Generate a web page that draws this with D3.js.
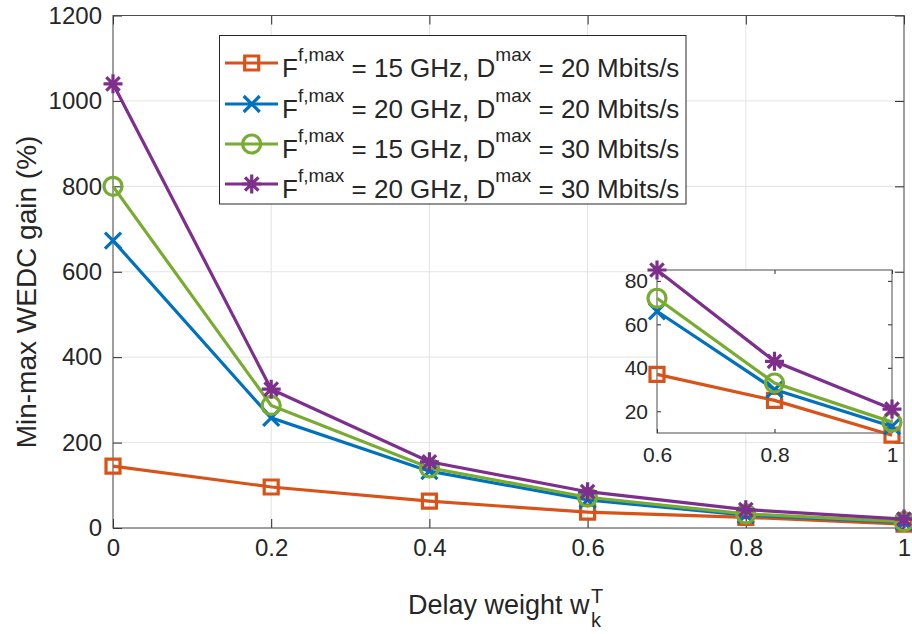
<!DOCTYPE html>
<html>
<head>
<meta charset="utf-8">
<script src="https://cdn.jsdelivr.net/npm/d3@7"></script>
<style>
  body { margin: 0; background: #fff; }
  svg text { font-family: "Liberation Sans", Arial, Helvetica, sans-serif; fill: #262626; }
</style>
</head>
<body>
<div id="chart"></div>
<script>
// data
var weights = [0, 0.2, 0.4, 0.6, 0.8, 1];
var gainF15D20 = [145, 96, 63, 37, 25, 9];
var gainF20D20 = [673, 258, 133, 66, 30, 13];
var gainF15D30 = [800, 287, 141, 72, 33, 15];
var gainF20D30 = [1040, 325, 155, 85, 43, 21];

var xTicks = [0, 0.2, 0.4, 0.6, 0.8, 1];
var yTicks = [0, 200, 400, 600, 800, 1000, 1200];
var insetXTicks = [0.6, 0.8, 1];
var insetYTicks = [20, 40, 60, 80];

var seriesNames = [
    ["15 GHz", "20 Mbits/s"],
    ["20 GHz", "20 Mbits/s"],
    ["15 GHz", "30 Mbits/s"],
    ["20 GHz", "30 Mbits/s"]
];
var seriesValues = [gainF15D20, gainF20D20, gainF15D30, gainF20D30];
var colors = ["#D95319", "#0072BD", "#77AC30", "#7E2F8E"];
var markers = ["square", "x", "circle", "star"];

var W = 912, H = 634;
var axisColor = "#262626";

var svg = d3.select("#chart").append("svg")
    .attr("width", W)
    .attr("height", H);

// main axes
var x = d3.scaleLinear().domain([0, 1]).range([113, 904]);
var y = d3.scaleLinear().domain([0, 1200]).range([528, 15.5]);

// grid
var grid = svg.append("g");
grid.selectAll(".vg").data(xTicks).join("line")
    .attr("x1", d => x(d)).attr("x2", d => x(d))
    .attr("y1", y(0)).attr("y2", y(1200))
    .attr("stroke", "#e3e3e3").attr("stroke-width", 1);
grid.selectAll(".hg").data(yTicks).join("line")
    .attr("x1", x(0)).attr("x2", x(1))
    .attr("y1", d => y(d)).attr("y2", d => y(d))
    .attr("stroke", "#e3e3e3").attr("stroke-width", 1);

function drawFrame(g, xs, ys, xt, yt, fontSize, tickLen, padX, padY, fmt) {
    var x0 = xs.range()[0], x1 = xs.range()[1];
    var y0 = ys.range()[0], y1 = ys.range()[1];
    // bottom + left axes with labels, inner ticks
    g.append("g")
        .attr("transform", "translate(0," + y0 + ")")
        .call(d3.axisBottom(xs).tickValues(xt).tickSize(-tickLen).tickPadding(padX).tickFormat(fmt))
        .call(a => a.selectAll("text").style("font-size", fontSize + "px").attr("fill", axisColor));
    g.append("g")
        .attr("transform", "translate(" + x0 + ",0)")
        .call(d3.axisLeft(ys).tickValues(yt).tickSize(-tickLen).tickPadding(padY).tickFormat(fmt))
        .call(a => a.selectAll("text").style("font-size", fontSize + "px").attr("fill", axisColor));
    // top + right mirrored ticks
    g.append("g")
        .attr("transform", "translate(0," + y1 + ")")
        .call(d3.axisTop(xs).tickValues(xt).tickSize(-tickLen).tickFormat(""));
    g.append("g")
        .attr("transform", "translate(" + x1 + ",0)")
        .call(d3.axisRight(ys).tickValues(yt).tickSize(-tickLen).tickFormat(""));
    g.selectAll(".tick line").attr("stroke", axisColor).attr("stroke-width", 1);
    g.selectAll("path.domain").remove();
    g.append("rect")
        .attr("x", x0).attr("y", y1)
        .attr("width", x1 - x0).attr("height", y0 - y1)
        .attr("fill", "none").attr("stroke", "#4d4d4d").attr("stroke-width", 1);
}

drawFrame(svg.append("g"), x, y, xTicks, yTicks, 24, 9, 11, 11, d3.format("~g"));

function markerPath(type, size) {
    var s = size / 2;
    if (type === "square") return "M" + (-s) + "," + (-s) + "h" + size + "v" + size + "h" + (-size) + "Z";
    if (type === "x") return "M" + (-s) + "," + (-s) + "L" + s + "," + s + "M" + (-s) + "," + s + "L" + s + "," + (-s);
    if (type === "circle") return d3.arc()({innerRadius: 0, outerRadius: s, startAngle: 0, endAngle: 2 * Math.PI});
    if (type === "star") {
        var p = "";
        [0, 45, 90, 135].forEach(function (a) {
            var t = a * Math.PI / 180;
            p += "M" + (-s * Math.cos(t)) + "," + (-s * Math.sin(t)) + "L" + (s * Math.cos(t)) + "," + (s * Math.sin(t));
        });
        return p;
    }
}
var markerSize = {square: 14, x: 16, circle: 18, star: 19};

function drawSeries(g, xs, ys, keep) {
    seriesValues.forEach(function (vals, i) {
        var pts = weights.map((w, j) => ({w: w, v: vals[j]})).filter(d => keep(d.w));
        var line = d3.line().x(d => xs(d.w)).y(d => ys(d.v));
        g.append("path")
            .datum(pts)
            .attr("d", line)
            .attr("fill", "none")
            .attr("stroke", colors[i])
            .attr("stroke-width", 3.2);
        g.selectAll(".m" + i).data(pts).join("path")
            .attr("transform", d => "translate(" + xs(d.w) + "," + ys(d.v) + ")")
            .attr("d", markerPath(markers[i], markerSize[markers[i]]))
            .attr("fill", "none")
            .attr("stroke", colors[i])
            .attr("stroke-width", 3.2);
    });
}

drawSeries(svg.append("g"), x, y, w => true);

// axis labels
svg.append("text")
    .attr("transform", "translate(36,292) rotate(-90)")
    .attr("text-anchor", "middle")
    .style("font-size", "28px")
    .text("Min-max WEDC gain (%)");

svg.append("text")
    .attr("x", 408).attr("y", 614)
    .style("font-size", "27px")
    .text("Delay weight w");
svg.append("text").attr("x", 591).attr("y", 627).style("font-size", "20px").text("k");
svg.append("text").attr("x", 591).attr("y", 603).style("font-size", "20px").text("T");

// legend
var lg = svg.append("g");
lg.append("rect")
    .attr("x", 219.5).attr("y", 35.5)
    .attr("width", 466.5).attr("height", 168.5)
    .attr("fill", "#fff").attr("stroke", axisColor).attr("stroke-width", 1);
var rowY = [63, 104, 144, 184];
seriesNames.forEach(function (nm, i) {
    var row = lg.append("g").attr("transform", "translate(0," + rowY[i] + ")");
    row.append("line").attr("x1", 225).attr("x2", 278).attr("y1", 0).attr("y2", 0)
        .attr("stroke", colors[i]).attr("stroke-width", 3.2);
    row.append("path").attr("transform", "translate(251.7,0)")
        .attr("d", markerPath(markers[i], markerSize[markers[i]]))
        .attr("fill", "none").attr("stroke", colors[i]).attr("stroke-width", 3.2);
    var t = row.append("text").attr("x", 282).attr("y", 13.5).style("font-size", "26px");
    t.append("tspan").text("F");
    t.append("tspan").attr("dy", -16).style("font-size", "19px").text("f,max");
    t.append("tspan").attr("dy", 16).text(" = " + nm[0] + ", D");
    t.append("tspan").attr("dy", -16).style("font-size", "19px").text("max");
    t.append("tspan").attr("dy", 16).text(" = " + nm[1]);
});

// inset
var xi = d3.scaleLinear().domain([0.6, 1]).range([657, 892]);
var yi = d3.scaleLinear().domain([10, 85]).range([433, 270]);
var inset = svg.append("g");
inset.append("rect")
    .attr("x", 657).attr("y", 270).attr("width", 235).attr("height", 163)
    .attr("fill", "#fff");
drawFrame(inset, xi, yi, insetXTicks, insetYTicks, 21, 4, 14, 9, d3.format("~g"));
drawSeries(inset.append("g"), xi, yi, w => w >= 0.59);
</script>
</body>
</html>
